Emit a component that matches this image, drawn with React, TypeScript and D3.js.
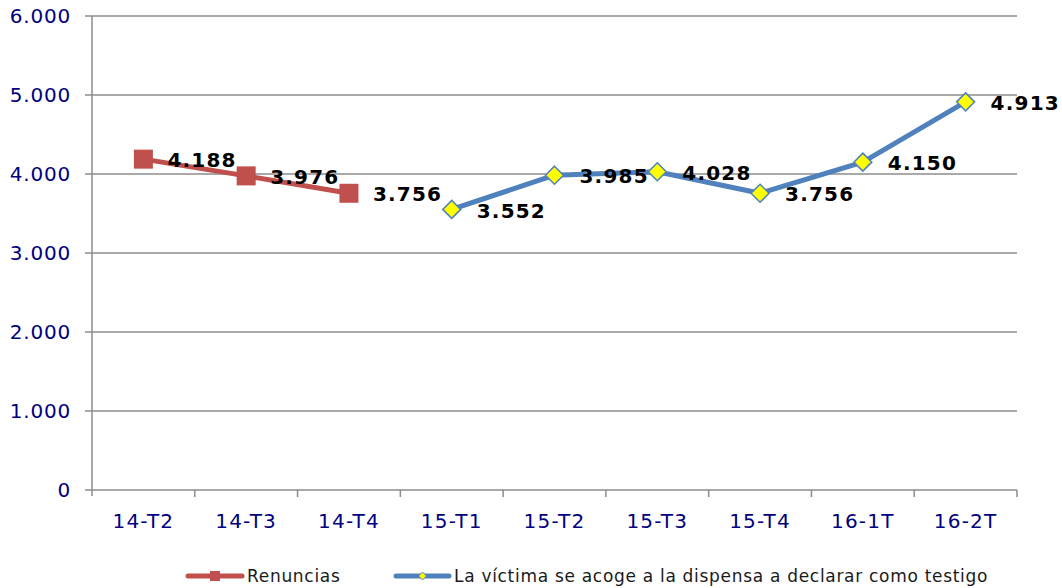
import React from "react";
import * as d3 from "d3";

const categories = ["14-T2", "14-T3", "14-T4", "15-T1", "15-T2", "15-T3", "15-T4", "16-1T", "16-2T"];
const renuncias: (number | null)[] = [4188, 3976, 3756, null, null, null, null, null, null];
const dispensa: (number | null)[] = [null, null, null, 3552, 3985, 4028, 3756, 4150, 4913];
const yTicks = [0, 1000, 2000, 3000, 4000, 5000, 6000];
const seriesNames = ["Renuncias", "La víctima se acoge a la dispensa a declarar como testigo"];

const W = 1062, H = 588;
const left = 92, right = 1017, top = 16, bottom = 490;
const font = "DejaVu Sans, Verdana, sans-serif";
const fmt = (v: number) => (v === 0 ? "0" : d3.format(",")(v).replace(/,/g, "."));

export default function App() {
  const x = d3.scaleBand<string>().domain(categories).range([left, right]);
  const y = d3.scaleLinear().domain([0, 6000]).range([bottom, top]);
  const cx = (i: number) => (x(categories[i]) as number) + x.bandwidth() / 2;
  const line = d3
    .line<number | null>()
    .defined((d) => d != null)
    .x((_, i) => cx(i))
    .y((d) => y(d as number));

  const red = "#C0504D", blue = "#4F81BD";
  const grid = "#8C8C8C";
  const navy = "#000080";

  return (
    <svg width={W} height={H} style={{ position: "absolute", left: 0, top: 0 }}>
      {yTicks.map((t) => (
        <g key={t}>
          <line x1={left - 7} x2={right} y1={y(t)} y2={y(t)} stroke={grid} strokeWidth={1.5} />
          <text x={left - 21} y={y(t)} dy="0.36em" textAnchor="end" fontFamily={font} fontSize={20} letterSpacing={0.8} fill={navy}>
            {fmt(t)}
          </text>
        </g>
      ))}
      <line x1={left} x2={left} y1={top} y2={bottom + 6} stroke={grid} strokeWidth={1.5} />
      {categories.map((c, i) => (
        <g key={c}>
          <line x1={(x(c) as number) + x.bandwidth()} x2={(x(c) as number) + x.bandwidth()} y1={bottom} y2={bottom + 7} stroke={grid} strokeWidth={1.5} />
          <text x={cx(i)} y={521} dy="0.36em" textAnchor="middle" fontFamily={font} fontSize={20} letterSpacing={1.2} fill={navy}>
            {c}
          </text>
        </g>
      ))}
      <path d={line(renuncias) || ""} fill="none" stroke={red} strokeWidth={5} strokeLinejoin="round" />
      <path d={line(dispensa) || ""} fill="none" stroke={blue} strokeWidth={5} strokeLinejoin="round" />
      {renuncias.map((v, i) =>
        v == null ? null : (
          <g key={"r" + i}>
            <rect x={cx(i) - 9.5} y={y(v) - 9.5} width={19} height={19} fill={red} />
            <text x={cx(i) + 24} y={y(v) + 1} dy="0.36em" fontFamily={font} fontSize={20} letterSpacing={1.2} fontWeight="bold" fill="#000">
              {fmt(v)}
            </text>
          </g>
        )
      )}
      {dispensa.map((v, i) =>
        v == null ? null : (
          <g key={"b" + i}>
            <path
              d={`M${cx(i)},${y(v) - 9}L${cx(i) + 9},${y(v)}L${cx(i)},${y(v) + 9}L${cx(i) - 9},${y(v)}Z`}
              fill="#FFFF00"
              stroke={blue}
              strokeWidth={1.5}
            />
            <text x={cx(i) + 25} y={y(v) + 1} dy="0.36em" fontFamily={font} fontSize={20} letterSpacing={1.2} fontWeight="bold" fill="#000">
              {fmt(v)}
            </text>
          </g>
        )
      )}
      {/* legend */}
      <g>
        <line x1={188} x2={242} y1={576} y2={576} stroke={red} strokeWidth={5} strokeLinecap="round" />
        <rect x={210} y={571} width={10} height={10} fill={red} />
        <text x={247} y={576} dy="0.36em" fontFamily={font} fontSize={17} letterSpacing={0.7} fill="#1a1a1a">{seriesNames[0]}</text>
        <line x1={396} x2={449} y1={576} y2={576} stroke={blue} strokeWidth={5} strokeLinecap="round" />
        <path d="M422.5,572L426.5,576L422.5,580L418.5,576Z" fill="#FFFF00" stroke={blue} strokeWidth={1} />
        <text x={454} y={576} dy="0.36em" fontFamily={font} fontSize={17} letterSpacing={0.7} fill="#1a1a1a">{seriesNames[1]}</text>
      </g>
    </svg>
  );
}
